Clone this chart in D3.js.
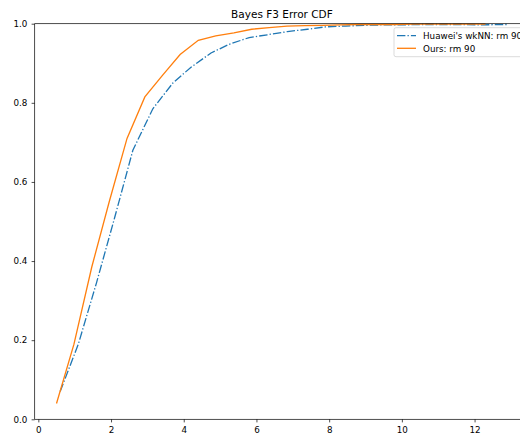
<!DOCTYPE html>
<html><head><meta charset="utf-8">
<script src="https://cdn.jsdelivr.net/npm/d3@7"></script>
<style>body{margin:0;background:#fff}svg{display:block;font-family:"DejaVu Sans",sans-serif}</style>
</head><body><svg id="c" width="520" height="439"></svg>
<script>
const title = "Bayes F3 Error CDF";
const seriesNames = ["Huawei's wkNN: rm 90", "Ours: rm 90"];
const huaweiX = [0.6, 1.1, 1.6, 2.1, 2.6, 3.15, 3.7, 4.2, 4.75, 5.25, 5.8, 6.3, 6.85, 7.4, 7.9, 8.45, 9.0, 9.5, 10.0, 10.6, 11.1, 11.6, 12.2, 12.9];
const huaweiY = [0.07, 0.19, 0.345, 0.51, 0.68, 0.785, 0.85, 0.89, 0.926, 0.948, 0.965, 0.972, 0.98, 0.986, 0.992, 0.994, 0.996, 0.997, 0.997, 0.998, 0.998, 0.998, 0.997, 0.998];
const oursX = [0.5, 0.98, 1.47, 1.95, 2.44, 2.93, 3.42, 3.9, 4.4, 4.88, 5.38, 5.87, 6.35, 6.84, 7.33, 7.82, 8.3, 8.8, 9.3, 9.8, 10.3, 10.8, 11.3, 11.8, 12.3];
const oursY = [0.04, 0.19, 0.385, 0.55, 0.71, 0.815, 0.87, 0.922, 0.958, 0.969, 0.977, 0.986, 0.99, 0.994, 0.995, 0.996, 0.997, 0.998, 0.998, 0.998, 0.999, 0.999, 0.999, 0.999, 0.999];
const xTicks = [0, 2, 4, 6, 8, 10, 12];
const yTicks = [0.0, 0.2, 0.4, 0.6, 0.8, 1.0];
const colors = ["#1f77b4", "#ff7f0e"];

const svg = d3.select("#c");
const L = 34.7, R = 529.1, T = 23.7, B = 419.3;
const fs = 8.75, lw = 1.31, dash = "8.4,2.1,1.3,2.1";
const x = d3.scaleLinear().domain([-0.1, 13.5]).range([L, R]);
const y = d3.scaleLinear().domain([0, 1]).range([B, T]);

const line = d3.line().x(d => x(d[0])).y(d => y(d[1]));
const hData = huaweiX.map((v, i) => [v, huaweiY[i]]);
const oData = oursX.map((v, i) => [v, oursY[i]]);

svg.append("path").datum(hData).attr("d", line).attr("fill", "none")
  .attr("stroke", colors[0]).attr("stroke-width", lw).attr("stroke-dasharray", dash);
svg.append("path").datum(oData).attr("d", line).attr("fill", "none")
  .attr("stroke", colors[1]).attr("stroke-width", lw);

// axes
const xAxis = d3.axisBottom(x).tickValues(xTicks).tickFormat(d3.format("d")).tickSizeOuter(0).tickSize(3.1).tickPadding(4.2);
const yAxis = d3.axisLeft(y).tickValues(yTicks).tickFormat(d3.format(".1f")).tickSizeOuter(0).tickSize(3.1).tickPadding(4.2);
const gx = svg.append("g").attr("transform", `translate(0,${B})`).call(xAxis);
const gy = svg.append("g").attr("transform", `translate(${L},0)`).call(yAxis);
[gx, gy].forEach(g => {
  g.select(".domain").remove();
  g.selectAll("line").attr("stroke", "#000").attr("stroke-width", 0.7);
  g.selectAll("text").attr("font-size", fs).attr("fill", "#000").attr("font-family", "DejaVu Sans");
});
// spines
svg.append("rect").attr("x", L).attr("y", T).attr("width", R - L).attr("height", B - T)
  .attr("fill", "none").attr("stroke", "#000").attr("stroke-width", 0.7);

svg.append("text").attr("x", (L + R) / 2).attr("y", T - 5.3).attr("text-anchor", "middle")
  .attr("font-size", 10.5).attr("fill", "#000").text(title);

// legend
const lg = svg.append("g");
lg.append("rect").attr("x", 394).attr("y", 27.7).attr("width", 140).attr("height", 29)
  .attr("rx", 2).attr("fill", "#fff").attr("fill-opacity", 0.8).attr("stroke", "#ccc").attr("stroke-width", 0.7);
seriesNames.forEach((n, i) => {
  const yy = 35.7 + i * 12.6;
  lg.append("line").attr("x1", 397).attr("x2", 416).attr("y1", yy).attr("y2", yy)
    .attr("stroke", colors[i]).attr("stroke-width", lw)
    .attr("stroke-dasharray", i === 0 ? dash : null);
  lg.append("text").attr("x", 423).attr("y", yy + 3.2).attr("font-size", fs).attr("fill", "#000").text(n);
});
</script></body></html>
